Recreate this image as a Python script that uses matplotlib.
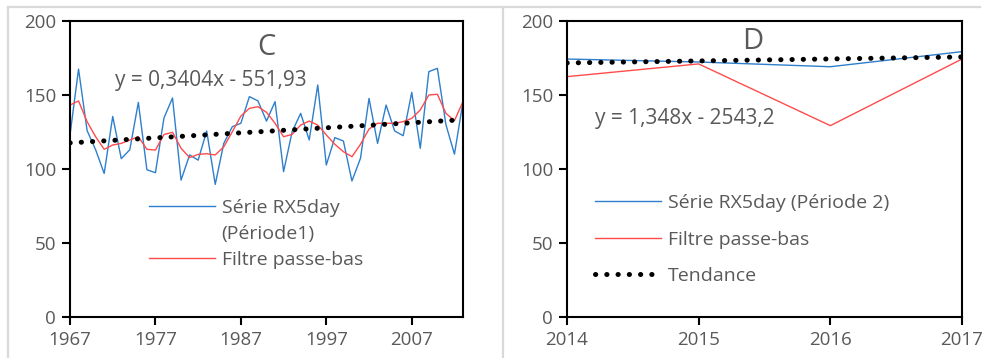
import matplotlib.pyplot as plt
from matplotlib.lines import Line2D

# --- data ---
years_c = list(range(1967, 2014))
rx5_c = [123, 167.5, 126, 113, 97, 135.5, 107, 113, 145, 99.5,
         97.5, 134.5, 148, 92.5, 109.5, 106, 125.7, 89.6, 117.3, 128.6,
         130.9, 148.9, 146, 132.4, 145.5, 98.2, 125.2, 137.6, 119.6, 156.8,
         102.7, 121.2, 118.9, 91.9, 107.2, 147.7, 117.3, 143.2, 125.7, 122.5,
         151.8, 114, 165.8, 168, 130, 110, 145.5]
filtre_c = [143.2, 146, 132, 121.8, 113.3, 116.2, 117.3, 119.6, 121.8, 113.3,
            112.8, 123.3, 124.8, 114, 107.7, 109.9, 110.3, 109.5, 115, 125.2,
            135.8, 141, 142.1, 138.3, 130.9, 121.8, 123.4, 129.7, 132.4, 129.7,
            123, 116.7, 111.7, 108.3, 116.7, 127, 130.9, 130.9, 130.9, 132,
            134.2, 139.9, 150, 150.5, 137.6, 132.7, 145.5]
trend_c = (0.3404, -551.93)

years_d = [2014, 2015, 2016, 2017]
rx5_d = [174.3, 172.3, 169.1, 179.3]
filtre_d = [162.4, 171, 129.3, 174.3]
trend_d = (1.348, -2543.2)

plt.rcParams['font.family'] = ['Open Sans', 'DejaVu Sans']
gray = '#595959'
blue = '#2E7FCC'
red = '#FF4B4B'
dots = dict(color='black', lw=3.6, linestyle=(0, (0.05, 2.2)),
            dash_capstyle='round')

fig = plt.figure(figsize=(9.9, 3.58), dpi=100)

# light grey chart-area borders (two Excel charts side by side)
for x0, x1, y0, y1 in [(8, 980, 7, 7), (8, 8, 7, 358), (503, 503, 7, 358)]:
    fig.add_artist(Line2D([x0 / 990, x1 / 990], [1 - y0 / 358, 1 - y1 / 358],
                          color='#D9D9D9', lw=1.6))

ax1 = fig.add_axes([70 / 990, 41 / 358, 393 / 990, 296 / 358])
ax2 = fig.add_axes([567 / 990, 41 / 358, 395 / 990, 296 / 358])


def style(ax):
    ax.set_ylim(0, 200)
    ax.set_yticks([0, 50, 100, 150, 200])
    for s in ax.spines.values():
        s.set_linewidth(1.5)
        s.set_color('black')
    ax.tick_params(direction='out', length=6, width=1.5, colors='black',
                   labelcolor=gray, labelsize=13.5, pad=4)


# panel C
l1, = ax1.plot(years_c, rx5_c, color=blue, lw=1.0)
l2, = ax1.plot(years_c, filtre_c, color=red, lw=1.0)
tc = [trend_c[0] * y + trend_c[1] for y in years_c]
ax1.plot(years_c, tc, **dots)
ax1.set_xlim(1967, 2013)
ax1.set_xticks([1967, 1977, 1987, 1997, 2007])
style(ax1)
ax1.text(0.5, 0.91, 'C', transform=ax1.transAxes, ha='center', va='center',
         fontsize=21, color=gray)
ax1.text(0.115, 0.80, 'y = 0,3404x - 551,93', transform=ax1.transAxes,
         ha='left', va='center', fontsize=15, color=gray)
blank = Line2D([], [], color='none')
ax1.legend([l1, blank, l2], ['Série RX5day', '(Période1)', 'Filtre passe-bas'],
           loc='upper left', bbox_to_anchor=(0.2, 0.40), frameon=False,
           fontsize=14, labelcolor=gray, handlelength=3.4, handletextpad=0.35,
           borderaxespad=0, borderpad=0, labelspacing=0.42)

# panel D
ax2.plot(years_d, rx5_d, color=blue, lw=1.0, label='Série RX5day (Période 2)')
ax2.plot(years_d, filtre_d, color=red, lw=1.0, label='Filtre passe-bas')
td = [trend_d[0] * y + trend_d[1] for y in years_d]
ax2.plot(years_d, td, label='Tendance', **dots)
ax2.set_xlim(2014, 2017)
ax2.set_xticks(years_d)
style(ax2)
ax2.text(0.47, 0.93, 'D', transform=ax2.transAxes, ha='center', va='center',
         fontsize=21, color=gray)
ax2.text(0.07, 0.67, 'y = 1,348x - 2543,2', transform=ax2.transAxes,
         ha='left', va='center', fontsize=15, color=gray)
ax2.legend(loc='upper left', bbox_to_anchor=(0.07, 0.415), frameon=False,
           fontsize=14, labelcolor=gray, handlelength=3.4, handletextpad=0.35,
           borderaxespad=0, borderpad=0, labelspacing=0.95)

fig.savefig('out.png', dpi=100)
